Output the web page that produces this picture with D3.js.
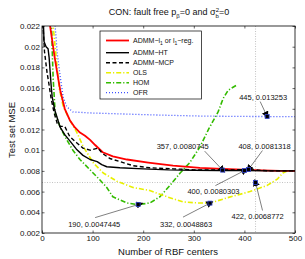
<!DOCTYPE html>
<html>
<head>
<meta charset="utf-8">
<script src="https://cdn.jsdelivr.net/npm/d3@7"></script>
<style>
  body { margin: 0; background: #fff; }
  text { font-family: "Liberation Sans", Arial, Helvetica, sans-serif; fill: #111; }
</style>
</head>
<body>
<script>
// curves: [centers, test MSE]
var admmL1 = [[14,0.0235],[16,0.022],[25,0.019],[30,0.0175],[36,0.0158],[45,0.0140],[55,0.0129],[65,0.0122],[75,0.0117],[85,0.0114],[95,0.0110],[105,0.0105],[120,0.0098],[140,0.0094],[168,0.0091],[210,0.0088],[259,0.0085],[312,0.0083],[357,0.0082],[420,0.00808],[470,0.0080],[500,0.0080]];
var admmHT = [[2,0.0235],[4,0.0205],[8,0.0200],[12,0.0198],[14,0.0190],[18,0.0163],[20,0.0152],[25,0.0139],[36,0.0122],[45,0.0115],[55,0.0109],[68,0.0101],[81,0.0095],[95,0.0091],[109,0.0089],[118,0.0086],[128,0.0084],[154,0.0083],[200,0.0082],[250,0.0081],[300,0.00806],[350,0.00804],[400,0.00803],[450,0.0080],[500,0.0080]];
var admmMCP = [[1,0.0235],[2,0.022],[5,0.0195],[10,0.0175],[14,0.0163],[18,0.0150],[24,0.0136],[30,0.0126],[36,0.0123],[45,0.0123],[55,0.0113],[69,0.0107],[81,0.0102],[95,0.0100],[111,0.0102],[119,0.0097],[134,0.0092],[154,0.0089],[180,0.0085],[213,0.0083],[260,0.0082],[300,0.0081],[357,0.00808],[408,0.00813],[450,0.0080],[500,0.0080]];
var ols = [[20,0.0235],[22,0.022],[28,0.019],[34,0.016],[42,0.0142],[55,0.0129],[69,0.0117],[81,0.0104],[101,0.0088],[121,0.0078],[148,0.0070],[180,0.0064],[213,0.0061],[247,0.0055],[279,0.0050],[310,0.0049],[332,0.00489],[366,0.0054],[411,0.0060],[445,0.0066],[465,0.0072],[476,0.0078],[485,0.0080]];
var hom = [[18,0.0235],[20,0.020],[22,0.017],[26,0.0136],[36,0.0122],[49,0.0110],[61,0.0100],[75,0.0091],[95,0.0081],[115,0.0071],[128,0.0064],[140,0.0055],[168,0.0049],[190,0.00474],[213,0.0049],[233,0.0055],[253,0.0066],[273,0.0078],[292,0.0088],[312,0.0103],[330,0.0121],[348,0.0137],[358,0.0150],[368,0.0158],[385,0.0163]];
var ofr = [[24,0.0235],[26,0.022],[30,0.0194],[36,0.0171],[42,0.0151],[49,0.0142],[61,0.0137],[95,0.0136],[160,0.0135],[227,0.0134],[312,0.0133],[400,0.01326],[445,0.013253],[500,0.01325]];

// annotated points
var markX = [190, 332, 357, 400, 408, 422, 445];
var markY = [0.0047445, 0.0048863, 0.0080745, 0.0080303, 0.0081318, 0.0068772, 0.013253];

var xTicks = [0, 100, 200, 300, 400, 500];
var yTicks = [0.002, 0.004, 0.006, 0.008, 0.01, 0.012, 0.014, 0.016, 0.018, 0.02, 0.022];
var legendNames = ["ADMM-HT", "ADMM-MCP", "OLS", "HOM", "OFR"];

var W = 305, H = 259;
var margin = {top: 26, right: 10, bottom: 26, left: 42};
var width = 295 - margin.left, height = 233 - margin.top;

var x = d3.scaleLinear().domain([0, 500]).range([0, width]);
var y = d3.scaleLinear().domain([0.002, 0.022]).range([height, 0]);

var svg = d3.select("body").append("svg")
  .attr("width", W).attr("height", H);

svg.append("defs").append("clipPath").attr("id", "clip")
  .append("rect").attr("width", width).attr("height", height);

svg.append("defs").append("marker")
  .attr("id", "arrow").attr("viewBox", "0 0 10 10")
  .attr("refX", 10).attr("refY", 5)
  .attr("markerWidth", 7).attr("markerHeight", 7)
  .attr("markerUnits", "userSpaceOnUse")
  .attr("orient", "auto")
  .append("path").attr("d", "M0,0 L10,5 L0,10 z").attr("fill", "#000");

var g = svg.append("g").attr("transform", "translate(" + margin.left + "," + margin.top + ")");

// title
var title = svg.append("text").attr("x", 169).attr("y", 15)
  .attr("text-anchor", "middle").style("font-size", "9px");
title.append("tspan").text("CON: fault free p");
title.append("tspan").attr("dy", 2.5).style("font-size", "6px").text("β");
title.append("tspan").attr("dy", -2.5).text("=0 and σ");
title.append("tspan").attr("dy", -3.5).style("font-size", "6px").text("2");
title.append("tspan").attr("dx", -3.4).attr("dy", 6).style("font-size", "6px").text("b");
title.append("tspan").attr("dy", -2.5).text("=0");

// reference dotted lines
g.append("line").attr("x1", x(422)).attr("x2", x(422)).attr("y1", 0).attr("y2", height)
  .attr("stroke", "#999").attr("stroke-width", 0.6).attr("stroke-dasharray", "1,1.5");
g.append("line").attr("x1", 0).attr("x2", width).attr("y1", y(0.0068772)).attr("y2", y(0.0068772))
  .attr("stroke", "#999").attr("stroke-width", 0.6).attr("stroke-dasharray", "1,1.5");

// axes
var xAxis = d3.axisBottom(x).tickValues(xTicks).tickSize(-2.5).tickFormat(d3.format("d"));
var yAxis = d3.axisLeft(y).tickValues(yTicks).tickSize(-2.5).tickFormat(function(d){ return +d.toFixed(3); });

var gx = g.append("g").attr("transform", "translate(0," + height + ")").call(xAxis);
var gy = g.append("g").call(yAxis);
g.append("g").call(d3.axisTop(x).tickValues(xTicks).tickSize(-2.5).tickFormat(""));
g.append("g").attr("transform", "translate(" + width + ",0)")
  .call(d3.axisRight(y).tickValues(yTicks).tickSize(-2.5).tickFormat(""));
g.selectAll(".domain").remove();
g.selectAll(".tick line").attr("stroke", "#000").attr("stroke-width", 0.6);
gx.selectAll("text").attr("dy", "0.2em").attr("y", 6).style("font-size", "8px").style("font-family", "Liberation Sans, Arial, sans-serif");
gy.selectAll("text").attr("x", -2).style("font-size", "8px").style("font-family", "Liberation Sans, Arial, sans-serif");

// curves
var line = d3.line().x(function(d){ return x(d[0]); }).y(function(d){ return y(d[1]); });
var curves = g.append("g").attr("clip-path", "url(#clip)");
function draw(data, color, w, dash) {
  curves.append("path").datum(data).attr("d", line)
    .attr("fill", "none").attr("stroke", color).attr("stroke-width", w)
    .attr("stroke-dasharray", dash).attr("stroke-linejoin", "round");
}
draw(ofr, "#3d50ff", 1.3, "1,2");
draw(hom, "#33bb00", 1.6, "5,2,1.2,2");
draw(ols, "#e8f000", 1.6, "5,2,1.2,2");
draw(admmL1, "#ff0000", 1.8, null);
draw(admmMCP, "#000", 1.4, "4,2.5");
draw(admmHT, "#000", 1.4, null);

// box
g.append("rect").attr("width", width).attr("height", height)
  .attr("fill", "none").attr("stroke", "#000").attr("stroke-width", 0.8);

// annotations: text offset (tx,ty) and arrow tail (ax,ay) in pixels from the marker
var offs = [[-70,22,-43,13],[-50,24,-27,14],[-66,-21,-18,-19],[-57,23,-29,15],[-10,-21,14,-19],[-24,36,7,28],[-28,-17,-7,-15]];
markX.forEach(function(mx, i) {
  var px = x(mx), py = y(markY[i]), o = offs[i];
  g.append("line").attr("x1", px + o[2]).attr("y1", py + o[3])
    .attr("x2", px - o[2] * 0.12).attr("y2", py - o[3] * 0.12)
    .attr("stroke", "#000").attr("stroke-width", 0.5).attr("marker-end", "url(#arrow)");
  g.append("rect").attr("x", px - 2).attr("y", py - 2).attr("width", 4).attr("height", 4)
    .attr("fill", "#000").attr("stroke", "#3344cc").attr("stroke-width", 0.8);
  g.append("text").attr("x", px + o[0]).attr("y", py + o[1])
    .style("font-size", "7.5px").text(mx + ", " + markY[i]);
});

// axis labels
svg.append("text").attr("x", 168).attr("y", 255).attr("text-anchor", "middle")
  .style("font-size", "9.5px").text("Number of RBF centers");
svg.append("text").attr("transform", "translate(15,130) rotate(-90)").attr("text-anchor", "middle")
  .style("font-size", "9.5px").text("Test set MSE");

// legend
var lg = svg.append("g");
lg.append("rect").attr("x", 100).attr("y", 31).attr("width", 101.5).attr("height", 68)
  .attr("fill", "#fff").attr("stroke", "#000").attr("stroke-width", 0.7);
var styles = [["#000", 1.4, null], ["#000", 1.4, "4,2.5"], ["#e8f000", 1.6, "5,2,1.2,2"], ["#33bb00", 1.6, "5,2,1.2,2"], ["#3d50ff", 1.3, "1,2"]];
lg.append("line").attr("x1", 106).attr("x2", 129).attr("y1", 40.5).attr("y2", 40.5)
  .attr("stroke", "#ff0000").attr("stroke-width", 1.8);
var t0 = lg.append("text").attr("x", 133).attr("y", 43).style("font-size", "7px");
t0.append("tspan").text("ADMM−l");
t0.append("tspan").attr("dy", 2).style("font-size", "5px").text("1");
t0.append("tspan").attr("dy", -2).text(" or l");
t0.append("tspan").attr("dy", 2).style("font-size", "5px").text("1");
t0.append("tspan").attr("dy", -2).text("−reg.");
legendNames.forEach(function(name, i) {
  var ly = 52.7 + i * 10;
  lg.append("line").attr("x1", 106).attr("x2", 129).attr("y1", ly).attr("y2", ly)
    .attr("stroke", styles[i][0]).attr("stroke-width", styles[i][1]).attr("stroke-dasharray", styles[i][2]);
  lg.append("text").attr("x", 133).attr("y", ly + 2.5).style("font-size", "7px")
    .text(name.replace("-", "−"));
});
</script>
</body>
</html>
